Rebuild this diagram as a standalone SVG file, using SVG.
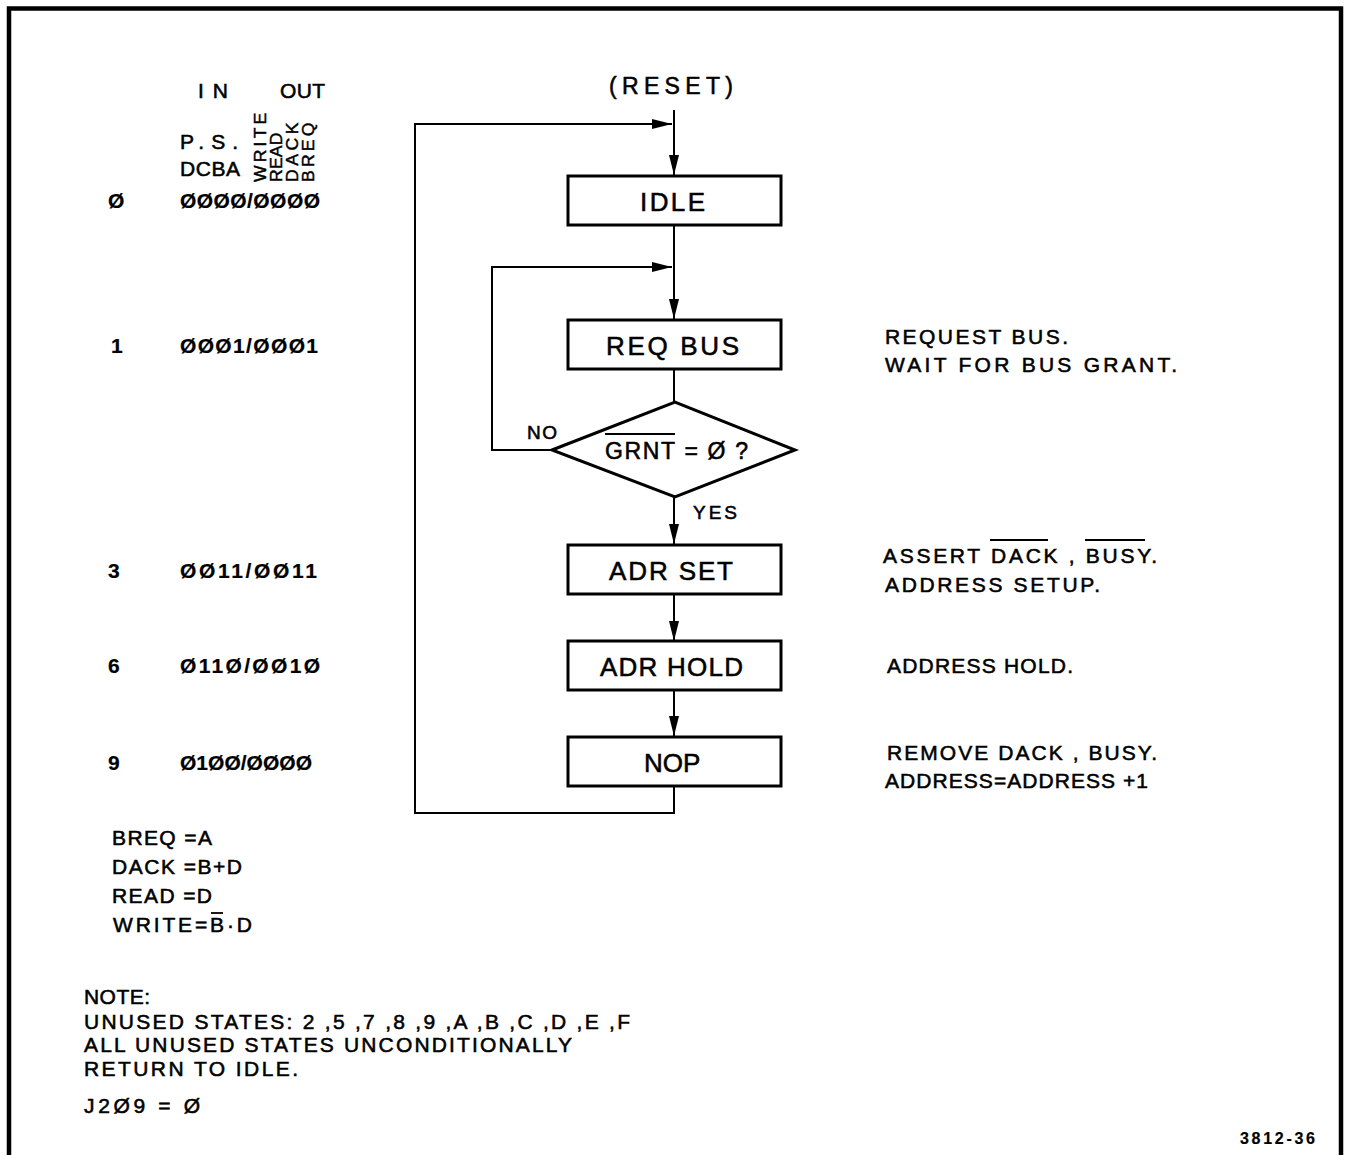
<svg xmlns="http://www.w3.org/2000/svg" width="1345" height="1155" viewBox="0 0 1345 1155">
<style>
text{font-family:"Liberation Sans",Arial,sans-serif;fill:#000;stroke:#000;stroke-width:0.55}
.box{fill:#fff;stroke:#000;stroke-width:3}
.lbl{font-size:26px}
.s{font-size:21px}
.sm{font-size:19px}
.b{font-weight:bold;stroke-width:0.2}
.v{font-size:16px;stroke-width:0.45}
.con{fill:none;stroke:#000;stroke-width:2}
.ov{stroke:#000;stroke-width:1.8}
</style>
<defs>
<marker id="arr" markerUnits="userSpaceOnUse" markerWidth="20" markerHeight="11" refX="20" refY="5.5" orient="auto">
<path d="M0,0.5 L20,5.5 L0,10.5 z" fill="#000"/>
</marker>
</defs>
<rect width="1345" height="1155" fill="#fff"/>
<path d="M9,1160 V8.5 H1341 V1160" fill="none" stroke="#000" stroke-width="4.5"/>

<g id="table-header">
<text class="s" x="198" y="98" textLength="30" lengthAdjust="spacing">IN</text>
<text class="s" x="280" y="98" textLength="45" lengthAdjust="spacing">OUT</text>
<text class="s" x="180" y="149" textLength="58" lengthAdjust="spacing">P.S.</text>
<text class="s" x="180" y="176" textLength="60" lengthAdjust="spacing">DCBA</text>
<text class="v" transform="translate(266,182) rotate(-90) scale(1.1,1)" textLength="63" lengthAdjust="spacing">WRITE</text>
<text class="v" transform="translate(282,182) rotate(-90) scale(1.1,1)" textLength="45" lengthAdjust="spacing">READ</text>
<text class="v" transform="translate(298,182) rotate(-90) scale(1.1,1)" textLength="54" lengthAdjust="spacing">DACK</text>
<text class="v" transform="translate(314,182) rotate(-90) scale(1.1,1)" textLength="54" lengthAdjust="spacing">BREQ</text>
</g>

<g id="table-rows">
<text class="s b" x="108" y="208">Ø</text>
<text class="s b" x="180" y="208" textLength="140" lengthAdjust="spacing">ØØØØ/ØØØØ</text>
<text class="s b" x="111" y="353">1</text>
<text class="s b" x="180" y="353" textLength="138" lengthAdjust="spacing">ØØØ1/ØØØ1</text>
<text class="s b" x="108" y="578">3</text>
<text class="s b" x="180" y="578" textLength="137" lengthAdjust="spacing">ØØ11/ØØ11</text>
<text class="s b" x="108" y="673">6</text>
<text class="s b" x="180" y="673" textLength="140" lengthAdjust="spacing">Ø11Ø/ØØ1Ø</text>
<text class="s b" x="108" y="770">9</text>
<text class="s b" x="180" y="770" textLength="132" lengthAdjust="spacing">Ø1ØØ/ØØØØ</text>
</g>

<g id="connectors">
<path class="con" d="M674,110 V175" marker-end="url(#arr)"/>
<path class="con" d="M674,786 V813 H415 V124 H672" marker-end="url(#arr)"/>
<path class="con" d="M674,225 V319" marker-end="url(#arr)"/>
<path class="con" d="M552,450 H492 V267 H672" marker-end="url(#arr)"/>
<path class="con" d="M674,368 V402"/>
<path class="con" d="M674,497 V544" marker-end="url(#arr)"/>
<path class="con" d="M674,593 V641" marker-end="url(#arr)"/>
<path class="con" d="M674,690 V736" marker-end="url(#arr)"/>
</g>

<g id="reset">
<text x="609" y="94" font-size="23" textLength="124" lengthAdjust="spacing">(RESET)</text>
</g>
<g id="idle">
<rect class="box" x="568" y="176" width="213" height="49"/>
<text class="lbl" x="640" y="211" textLength="65" lengthAdjust="spacing">IDLE</text>
</g>
<g id="req-bus">
<rect class="box" x="568" y="320" width="213" height="49"/>
<text class="lbl" x="606" y="355" textLength="133" lengthAdjust="spacing">REQ BUS</text>
</g>
<g id="grnt-decision">
<path class="box" d="M552,450 L675,402 L795,450 L675,497 z"/>
<text x="605" y="459" font-size="23" textLength="143" lengthAdjust="spacing">GRNT = Ø ?</text>
<line class="ov" x1="605" y1="434" x2="675" y2="434"/>
<text class="sm" x="527" y="439" textLength="30" lengthAdjust="spacing">NO</text>
<text class="sm" x="693" y="519" textLength="44" lengthAdjust="spacing">YES</text>
</g>
<g id="adr-set">
<rect class="box" x="568" y="545" width="213" height="49"/>
<text class="lbl" x="609" y="580" textLength="124" lengthAdjust="spacing">ADR SET</text>
</g>
<g id="adr-hold">
<rect class="box" x="568" y="641" width="213" height="49"/>
<text class="lbl" x="600" y="676" textLength="143" lengthAdjust="spacing">ADR HOLD</text>
</g>
<g id="nop">
<rect class="box" x="568" y="737" width="213" height="49"/>
<text class="lbl" x="644" y="772" font-size="25px">NOP</text>
</g>

<g id="descriptions">
<text class="s" x="885" y="344" textLength="183" lengthAdjust="spacing">REQUEST BUS.</text>
<text class="s" x="885" y="372" textLength="292" lengthAdjust="spacing">WAIT FOR BUS GRANT.</text>
<text class="s" x="883" y="563" textLength="274" lengthAdjust="spacing">ASSERT DACK , BUSY.</text>
<line class="ov" x1="990" y1="540" x2="1048" y2="540"/>
<line class="ov" x1="1085" y1="540" x2="1145" y2="540"/>
<text class="s" x="885" y="592" textLength="215" lengthAdjust="spacing">ADDRESS SETUP.</text>
<text class="s" x="887" y="673" textLength="186" lengthAdjust="spacing">ADDRESS HOLD.</text>
<text class="s" x="887" y="760" textLength="270" lengthAdjust="spacing">REMOVE DACK , BUSY.</text>
<text class="s" x="885" y="788" textLength="263" lengthAdjust="spacing">ADDRESS=ADDRESS +1</text>
</g>

<g id="equations">
<text class="s" x="112" y="845" textLength="100" lengthAdjust="spacing">BREQ =A</text>
<text class="s" x="112" y="874" textLength="130" lengthAdjust="spacing">DACK =B+D</text>
<text class="s" x="112" y="903" textLength="100" lengthAdjust="spacing">READ =D</text>
<text class="s" x="113" y="932" textLength="139" lengthAdjust="spacing">WRITE=B·D</text>
<line class="ov" x1="211" y1="913" x2="223" y2="913"/>
</g>

<g id="notes">
<text class="s" x="84" y="1004" textLength="66" lengthAdjust="spacing">NOTE:</text>
<text class="s" x="84" y="1029" textLength="546" lengthAdjust="spacing">UNUSED STATES: 2 ,5 ,7 ,8 ,9 ,A ,B ,C ,D ,E ,F</text>
<text class="s" x="84" y="1052" textLength="488" lengthAdjust="spacing">ALL UNUSED STATES UNCONDITIONALLY</text>
<text class="s" x="84" y="1076" textLength="214" lengthAdjust="spacing">RETURN TO IDLE.</text>
<text class="s" x="84" y="1113" textLength="116" lengthAdjust="spacing">J2Ø9 = Ø</text>
<text class="b" x="1240" y="1144" font-size="16" textLength="75" lengthAdjust="spacing">3812-36</text>
</g>
</svg>
